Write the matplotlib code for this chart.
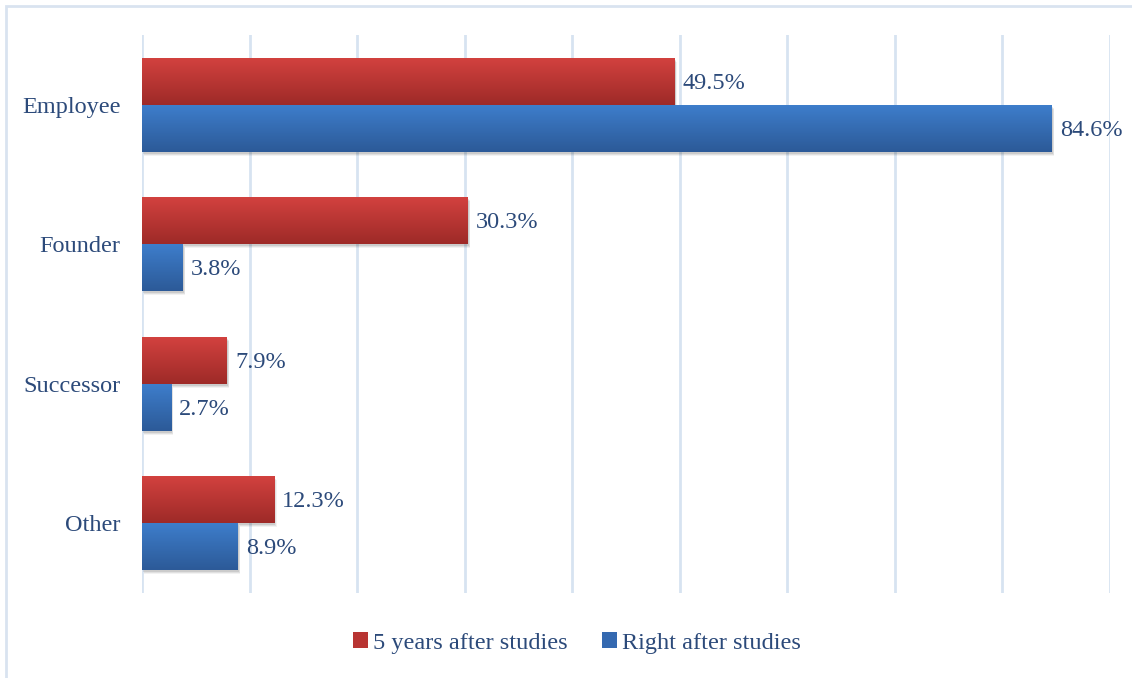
import numpy as np
import matplotlib
matplotlib.use("Agg")
import matplotlib.pyplot as plt
from matplotlib.patches import Rectangle, Patch
from matplotlib import transforms
from matplotlib.colors import LinearSegmentedColormap

categories = ["Employee", "Founder", "Successor", "Other"]
five_years = [49.5, 30.3, 7.9, 12.3]
right_after = [84.6, 3.8, 2.7, 8.9]
series_names = ["5 years after studies", "Right after studies"]
value_labels_5y = ["49.5%", "30.3%", "7.9%", "12.3%"]
value_labels_ra = ["84.6%", "3.8%", "2.7%", "8.9%"]

plt.rcParams["font.family"] = ["Liberation Serif", "DejaVu Serif"]
text_color = "#2C4A7A"
grid_color = "#D7E3F1"
fs = 17.5

red_top, red_bot = "#D3423F", "#9E2A28"
blue_top, blue_bot = "#3E7ECC", "#2C5A98"

fig = plt.figure(figsize=(11.32, 6.78), dpi=100)
W, H = 1132, 678
ax = fig.add_axes([142 / W, 1 - 593 / H, (1110 - 142) / W, (593 - 35) / H])

y = np.arange(len(categories))
bar_h = 0.337

def gradient_bar(ax, x0, yc, width, height, top, bot):
    # soft shadow beneath the bar
    for k, a in [(4, 0.05), (3, 0.07), (2, 0.09)]:
        off = transforms.offset_copy(ax.transData, fig=fig, x=k * 0.6, y=-k, units="dots")
        ax.add_patch(Rectangle((x0, yc - height / 2), width, height, transform=off,
                               facecolor="#000000", edgecolor="none", alpha=a, zorder=2))
    rect = Rectangle((x0, yc - height / 2), width, height, facecolor="none",
                     edgecolor="none", zorder=3)
    ax.add_patch(rect)
    cmap = LinearSegmentedColormap.from_list("g", [top, bot])
    grad = np.linspace(0, 1, 64).reshape(-1, 1)
    im = ax.imshow(grad, cmap=cmap, aspect="auto", zorder=3,
                   extent=(x0, x0 + width, yc + height / 2, yc - height / 2),
                   interpolation="bilinear")
    im.set_clip_path(rect)

for i in range(len(categories)):
    yr = y[i] - bar_h / 2
    yb = y[i] + bar_h / 2
    gradient_bar(ax, 0, yr, five_years[i], bar_h, red_top, red_bot)
    gradient_bar(ax, 0, yb, right_after[i], bar_h, blue_top, blue_bot)
    off = transforms.offset_copy(ax.transData, fig=fig, x=8, y=-2, units="dots")
    ax.text(five_years[i], yr, value_labels_5y[i], transform=off, va="center",
            ha="left", fontsize=fs, color=text_color, zorder=5)
    ax.text(right_after[i], yb, value_labels_ra[i], transform=off, va="center",
            ha="left", fontsize=fs, color=text_color, zorder=5)

ax.set_xlim(0, 90)
ax.set_ylim(len(categories) - 0.5, -0.5)
ax.set_xticks(np.arange(0, 91, 10))
ax.set_xticklabels([])
ax.tick_params(axis="x", length=0)
ax.set_yticks(y)
ax.set_yticklabels(categories, fontsize=fs, color=text_color)
ax.tick_params(axis="y", length=0, pad=15.5)
ax.grid(axis="x", color=grid_color, linewidth=2.0, zorder=0)
ax.set_axisbelow(True)
for s in ax.spines.values():
    s.set_visible(False)

handles = [Patch(facecolor="#B83432", edgecolor="none"),
           Patch(facecolor="#3469B0", edgecolor="none")]
fig.legend(handles, series_names, loc="center", bbox_to_anchor=(577 / W, 1 - 643 / H),
           ncol=2, frameon=False, fontsize=fs, labelcolor=text_color,
           handlelength=0.6, handleheight=0.6, handletextpad=0.2, columnspacing=1.45)

fig.add_artist(Rectangle((5.5 / W, -0.05), 1.2, 1 - 5.5 / H + 0.05,
                         transform=fig.transFigure, facecolor="none",
                         edgecolor="#D9E3F0", linewidth=2))

fig.savefig("out.png", dpi=100)
